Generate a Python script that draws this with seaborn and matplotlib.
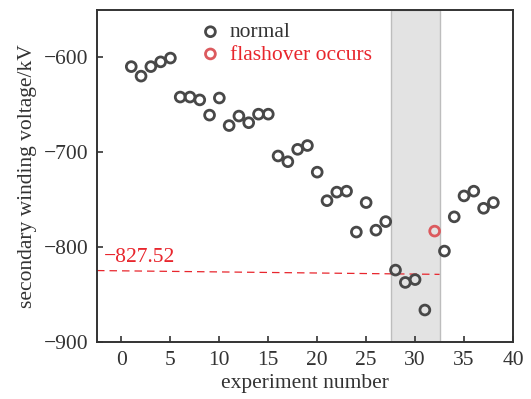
import numpy as np
import pandas as pd
import matplotlib
matplotlib.use("Agg")
import matplotlib.pyplot as plt
import seaborn as sns

# 試験番号と二次巻線電圧 (kV)
normal_x = [1, 2, 3, 4, 5, 6, 7, 8, 9, 10, 11, 12, 13, 14, 15, 16, 17, 18, 19,
            20, 21, 22, 23, 24, 25, 26, 27, 28, 29, 30, 31, 33, 34, 35, 36, 37, 38]
normal_y = [-610, -620, -610, -605, -601, -642, -642, -645, -661, -643, -672,
            -662, -669, -660, -660, -704, -710, -697, -693, -721, -751, -742,
            -741, -784, -753, -782, -773, -824, -837, -834, -866, -804, -768,
            -746, -741, -759, -753]
flash_x = [32]
flash_y = [-783]

# 閾値ライン
thr_x = [-2.5, 32.5]
thr_y = [-824.5, -828.5]
thr_label = "\u2212827.52"
span_range = (27.5, 32.5)

dark = "#484848"
red = "#e8262d"

sns.set_style("ticks")
plt.rcParams["font.family"] = ["Liberation Serif", "DejaVu Serif"]

fig = plt.figure(figsize=(5.31, 3.99), dpi=100)
ax = fig.add_axes([0.1827, 0.142, 0.7833, 0.834])

ax.axvspan(*span_range, facecolor="#e3e3e3", edgecolor="#bdbdbd", lw=1.0, zorder=0)
ax.plot(thr_x, thr_y, color=red, lw=0.9, ls=(0, (6, 4)), zorder=1)
ax.text(-1.85, -811, thr_label, color=red, fontsize=15.5, va="center", ha="left")

df_n = pd.DataFrame({"x": normal_x, "y": normal_y})
df_f = pd.DataFrame({"x": flash_x, "y": flash_y})
sns.scatterplot(data=df_n, x="x", y="y", ax=ax, color=dark, facecolor="none",
                edgecolor=dark, linewidth=2.0, s=50, label="normal", zorder=3)
sns.scatterplot(data=df_f, x="x", y="y", ax=ax, color="#dc5a5e", facecolor="none",
                edgecolor="#dc5a5e", linewidth=2.0, s=50, label="flashover occurs", zorder=3)

ax.set_xlim(-2.5, 40)
ax.set_ylim(-900, -550)
ax.set_xticks(np.arange(0, 41, 5))
ax.set_yticks([-600, -700, -800, -900])
ax.set_yticklabels(["\u2212600", "\u2212700", "\u2212800", "\u2212900"])
ax.tick_params(direction="in", length=4, width=1.2, labelsize=15.5, colors="#333333", pad=6)
ax.set_xlabel("experiment number", fontsize=15.5, color="#333333", labelpad=3)
ax.set_ylabel("secondary winding voltage/kV", fontsize=15.5, color="#333333", labelpad=5)
for sp in ax.spines.values():
    sp.set_visible(True)
    sp.set_color("#333333")
    sp.set_linewidth(1.4)

leg = ax.legend(loc="upper left", bbox_to_anchor=(0.195, 1.02), frameon=False,
                fontsize=15.5, handletextpad=0.3, labelspacing=0.1, handlelength=1.2)
leg.get_texts()[0].set_color("#333333")
leg.get_texts()[1].set_color(red)

fig.savefig("out.png", dpi=100)
